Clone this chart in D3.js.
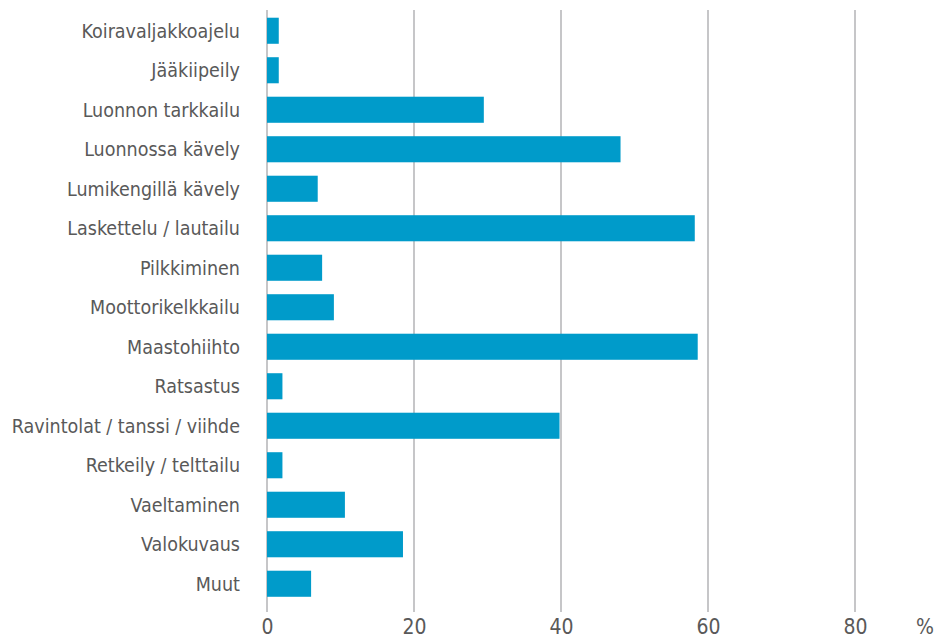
<!DOCTYPE html>
<html>
<head>
<meta charset="utf-8">
<script src="https://cdn.jsdelivr.net/npm/d3@7"></script>
<style>
  body { margin: 0; background: #fff; }
  text { font-family: "Liberation Sans Narrow", "DejaVu Sans Condensed", "Roboto", sans-serif; fill: #595959; }
</style>
</head>
<body>
<svg id="chart" width="937" height="639"></svg>
<script>
// activities and share of respondents (%)
const categories = [
    "Koiravaljakkoajelu", "Jääkiipeily", "Luonnon tarkkailu", "Luonnossa kävely",
    "Lumikengillä kävely", "Laskettelu / lautailu", "Pilkkiminen", "Moottorikelkkailu",
    "Maastohiihto", "Ratsastus", "Ravintolat / tanssi / viihde", "Retkeily / telttailu",
    "Vaeltaminen", "Valokuvaus", "Muut"
];
const values = [1.6, 1.6, 29.5, 48.1, 6.9, 58.2, 7.5, 9.1, 58.6, 2.1, 39.8, 2.1, 10.6, 18.5, 6.0];
const xTicks = [0, 20, 40, 60, 80];

const svg = d3.select("#chart");

const x = d3.scaleLinear().domain([0, 80]).range([267, 855]);
const y = d3.scaleBand()
    .domain(categories)
    .range([11, 603.5])
    .paddingInner(0.34)
    .paddingOuter(0.17);

// gridlines
svg.append("g")
    .selectAll("line")
    .data(xTicks)
    .join("line")
    .attr("x1", d => x(d)).attr("x2", d => x(d))
    .attr("y1", 10).attr("y2", 612)
    .attr("stroke", "#c6c6c8")
    .attr("stroke-width", 2);

// bars
svg.append("g")
    .selectAll("rect")
    .data(categories)
    .join("rect")
    .attr("x", x(0))
    .attr("y", d => y(d))
    .attr("height", y.bandwidth())
    .attr("width", (d, i) => x(values[i]) - x(0))
    .attr("fill", "#009bca");

// category labels
svg.append("g")
    .selectAll("text")
    .data(categories)
    .join("text")
    .attr("x", 240)
    .attr("y", d => y(d) + y.bandwidth() / 2)
    .attr("dy", "0.35em")
    .attr("text-anchor", "end")
    .style("font-size", "19.5px")
    .text(d => d);

// x axis labels
const xAxis = d3.axisBottom(x).tickValues(xTicks).tickSize(0).tickPadding(0);
const gx = svg.append("g").attr("transform", "translate(0,619)").call(xAxis);
gx.select(".domain").remove();
gx.selectAll("text")
    .attr("dy", "0.71em")
    .style("font-size", "21px")
    .style("font-family", null)
    .attr("fill", null);

svg.append("text")
    .attr("x", 925)
    .attr("y", 619)
    .attr("dy", "0.71em")
    .attr("text-anchor", "middle")
    .style("font-size", "21px")
    .text("%");
</script>
</body>
</html>
